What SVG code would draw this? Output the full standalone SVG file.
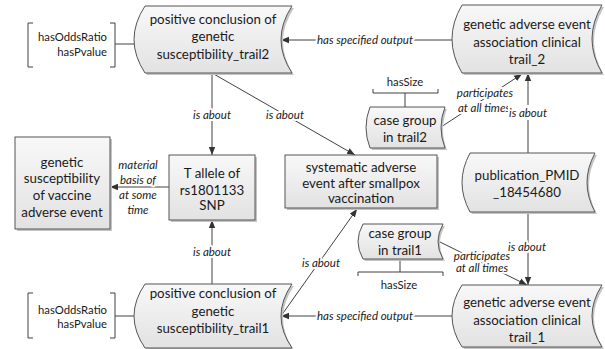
<svg xmlns="http://www.w3.org/2000/svg" width="605" height="349" viewBox="0 0 605 349">
<style>
.nd{fill:url(#g);stroke:#555;stroke-width:1}
.sh{fill:#c4c4c4;stroke:none}
.nt{font-family:Lato,"Liberation Sans",sans-serif;font-size:13.3px;fill:#1a1a1a;text-anchor:middle}
.bt{font-family:Lato,"Liberation Sans",sans-serif;font-size:11.3px;fill:#1a1a1a}
.lb{font-family:Lato,"Liberation Sans",sans-serif;font-size:11.5px;font-style:italic;fill:#1a1a1a;text-anchor:middle;stroke:#fff;stroke-width:4;paint-order:stroke;stroke-linejoin:round}
.cn{fill:none;stroke:#404040;stroke-width:1}
.ar{marker-end:url(#ah)}
.br{fill:none;stroke:#404040;stroke-width:1}
</style>
<defs>
<linearGradient id="g" x1="0" y1="0" x2="0" y2="1">
<stop offset="0" stop-color="#f8f8f8"/>
<stop offset="1" stop-color="#e2e2e2"/>
</linearGradient>
<marker id="ah" viewBox="0 0 10 10" refX="10" refY="5" markerWidth="8" markerHeight="8" markerUnits="userSpaceOnUse" orient="auto">
<path d="M0,1 L10,5 L0,9 Z" fill="#333"/>
</marker>
</defs>

<g id="connectors">
<line class="cn ar" x1="452" y1="40" x2="281" y2="40"/>
<line class="cn ar" x1="212" y1="73" x2="212" y2="155"/>
<line class="cn ar" x1="212" y1="73" x2="355" y2="155"/>
<line class="cn ar" x1="169" y1="187" x2="110" y2="187"/>
<line class="cn ar" x1="212" y1="284" x2="212" y2="220"/>
<line class="cn ar" x1="281" y1="316" x2="357" y2="209"/>
<line class="cn ar" x1="528" y1="153" x2="528" y2="73"/>
<line class="cn ar" x1="528" y1="212" x2="528" y2="285"/>
<line class="cn ar" x1="441" y1="127" x2="522" y2="74"/>
<line class="cn ar" x1="438" y1="241" x2="527" y2="285"/>
<line class="cn ar" x1="452" y1="316" x2="281" y2="316"/>
<line class="cn" x1="115" y1="44" x2="134" y2="44"/>
<line class="cn" x1="115" y1="316" x2="134" y2="316"/>
<line class="cn" x1="405" y1="93" x2="405" y2="107"/>
<line class="cn" x1="400" y1="259" x2="400" y2="272"/>
<text class="lb" x="365" y="44">has specified output</text>
<text class="lb" x="212" y="119">is about</text>
<text class="lb" x="285" y="119">is about</text>
<text class="lb" x="138" y="169">material</text>
<text class="lb" x="138" y="184">basis of</text>
<text class="lb" x="138" y="199">at some</text>
<text class="lb" x="138" y="214">time</text>
<text class="lb" x="212" y="256">is about</text>
<text class="lb" x="321" y="266.5">is about</text>
<text class="lb" x="485" y="97">participates</text>
<text class="lb" x="484" y="112">at all times</text>
<rect x="508" y="105" width="40" height="15" fill="#fff"/>
<text class="lb" x="528" y="117">is about</text>
<text class="lb" x="527" y="251">is about</text>
<text class="lb" x="482" y="260">participates</text>
<text class="lb" x="482" y="272">at all times</text>
<text class="lb" x="365" y="320">has specified output</text>
</g>

<g id="props_trail2">
<path class="br" d="M33,23 H28 V67 H33 M110,23 H115 V67 H110"/>
<text class="bt" x="107" y="41" text-anchor="end">hasOddsRatio</text>
<text class="bt" x="107" y="56" text-anchor="end">hasPvalue</text>
</g>
<g id="props_trail1">
<path class="br" d="M33,293 H28 V338 H33 M110,293 H115 V338 H110"/>
<text class="bt" x="107" y="314" text-anchor="end">hasOddsRatio</text>
<text class="bt" x="107" y="327.5" text-anchor="end">hasPvalue</text>
</g>
<g id="size_trail2">
<path class="br" d="M373,89 V93 H438 V89"/>
<text class="bt" x="405" y="86" text-anchor="middle">hasSize</text>
</g>
<g id="size_trail1">
<path class="br" d="M358,276 V272 H443 V276"/>
<text class="bt" x="399" y="289" text-anchor="middle">hasSize</text>
</g>

<g id="conclusion_trail2">
<path class="sh" transform="translate(2,2)" d="M145,6 H292 Q270,39.5 292,73 H145 Q123,39.5 145,6 Z"/>
<path class="nd" d="M145,6 H292 Q270,39.5 292,73 H145 Q123,39.5 145,6 Z"/>
<text class="nt" x="213" y="23.5">positive conclusion of</text>
<text class="nt" x="213" y="41">genetic</text>
<text class="nt" x="213" y="58.5">susceptibility_trail2</text>
</g>

<g id="clinical_trail2">
<path class="sh" transform="translate(2,2)" d="M462,5 H602 Q582,39 602,73 H462 Q442,39 462,5 Z"/>
<path class="nd" d="M462,5 H602 Q582,39 602,73 H462 Q442,39 462,5 Z"/>
<text class="nt" x="527" y="29">genetic adverse event</text>
<text class="nt" x="527" y="46.5">association clinical</text>
<text class="nt" x="527" y="64">trail_2</text>
</g>

<g id="case_group_trail2">
<path class="sh" transform="translate(2,2)" d="M370,107 H445 Q437,127.5 445,148 H370 Q362,127.5 370,107 Z"/>
<path class="nd" d="M370,107 H445 Q437,127.5 445,148 H370 Q362,127.5 370,107 Z"/>
<text class="nt" x="405" y="125">case group</text>
<text class="nt" x="405" y="142">in trail2</text>
</g>

<g id="genetic_susceptibility">
<rect class="sh" x="17" y="139" width="95" height="92"/>
<rect class="nd" x="15" y="137" width="95" height="92"/>
<text class="nt" x="62" y="166.5">genetic</text>
<text class="nt" x="62" y="183">susceptibility</text>
<text class="nt" x="62" y="200">of vaccine</text>
<text class="nt" x="62" y="216.5">adverse event</text>
</g>

<g id="t_allele">
<rect class="sh" x="171" y="157" width="86" height="65"/>
<rect class="nd" x="169" y="155" width="86" height="65"/>
<text class="nt" x="212" y="178">T allele of</text>
<text class="nt" x="212" y="195">rs1801133</text>
<text class="nt" x="212" y="210">SNP</text>
</g>

<g id="systematic_adverse_event">
<rect class="sh" x="287" y="157" width="152" height="53"/>
<rect class="nd" x="285" y="155" width="152" height="53"/>
<text class="nt" x="361" y="172">systematic adverse</text>
<text class="nt" x="361" y="187.5">event after smallpox</text>
<text class="nt" x="361" y="203">vaccination</text>
</g>

<g id="publication">
<path class="sh" transform="translate(2,2)" d="M470,153 H595 Q579,182.5 595,212 H470 Q454,182.5 470,153 Z"/>
<path class="nd" d="M470,153 H595 Q579,182.5 595,212 H470 Q454,182.5 470,153 Z"/>
<text class="nt" x="527" y="180">publication_PMID</text>
<text class="nt" x="527" y="197">_18454680</text>
</g>

<g id="case_group_trail1">
<path class="sh" transform="translate(2,2)" d="M363,224 H443 Q433,241.5 443,259 H363 Q353,241.5 363,224 Z"/>
<path class="nd" d="M363,224 H443 Q433,241.5 443,259 H363 Q353,241.5 363,224 Z"/>
<text class="nt" x="400" y="238">case group</text>
<text class="nt" x="400" y="255">in trail1</text>
</g>

<g id="conclusion_trail1">
<path class="sh" transform="translate(2,2)" d="M145,284 H292 Q270,316 292,348 H145 Q123,316 145,284 Z"/>
<path class="nd" d="M145,284 H292 Q270,316 292,348 H145 Q123,316 145,284 Z"/>
<text class="nt" x="213" y="298">positive conclusion of</text>
<text class="nt" x="213" y="315.5">genetic</text>
<text class="nt" x="213" y="333">susceptibility_trail1</text>
</g>

<g id="clinical_trail1">
<path class="sh" transform="translate(2,2)" d="M462,285 H602 Q582,316 602,347 H462 Q442,316 462,285 Z"/>
<path class="nd" d="M462,285 H602 Q582,316 602,347 H462 Q442,316 462,285 Z"/>
<text class="nt" x="527" y="307">genetic adverse event</text>
<text class="nt" x="527" y="324.5">association clinical</text>
<text class="nt" x="527" y="342">trail_1</text>
</g>
</svg>
